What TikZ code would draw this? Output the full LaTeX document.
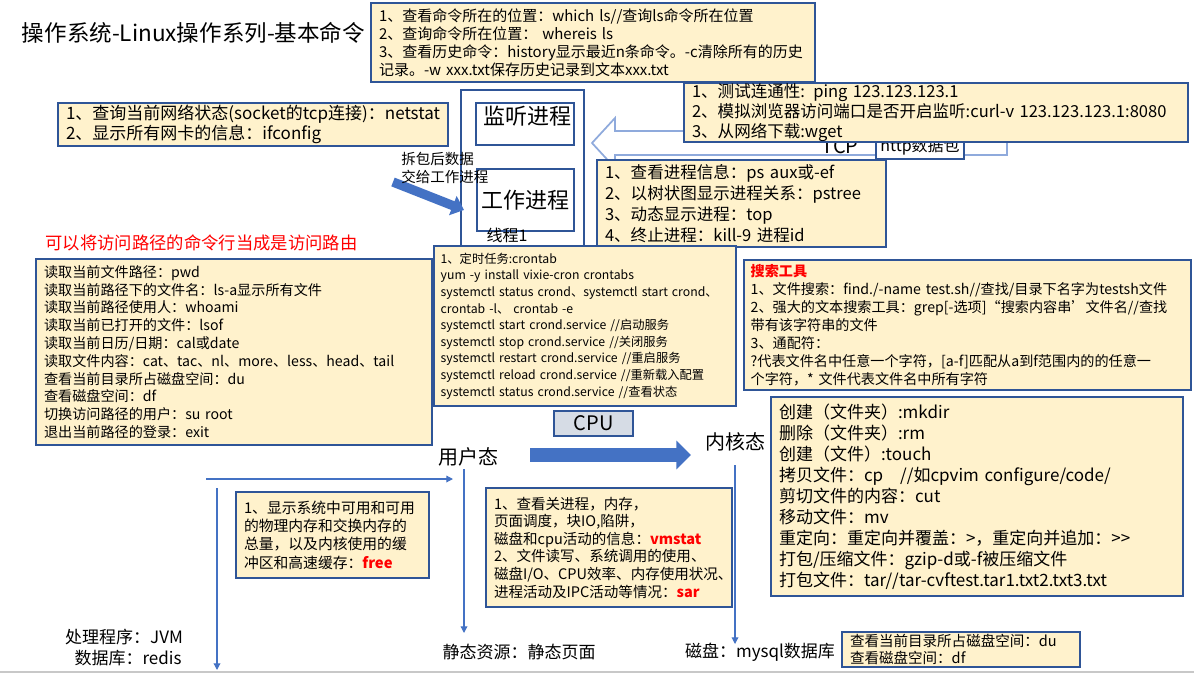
\documentclass[tikz,border=0pt]{standalone}
\usepackage{fontspec}
\setmainfont{Noto Sans CJK SC}
\usetikzlibrary{arrows.meta}
\definecolor{boxc}{HTML}{FFF2CC}
\definecolor{bordc}{HTML}{2F5597}
\definecolor{arrowc}{HTML}{4472C4}
\definecolor{blockc}{HTML}{8FAADC}
\definecolor{cpuc}{HTML}{D6DCE5}
\definecolor{redc}{HTML}{FF0000}
\definecolor{grayc}{HTML}{C8C8C8}
\newcommand\myfs[2]{\fontsize{#1}{#2}\selectfont}
\begin{document}
\begin{tikzpicture}[x=0.75pt,y=-0.75pt,
  box/.style={draw=bordc, fill=boxc, line width=0.9pt, inner xsep=6pt, inner ysep=0pt, align=left},
  plainbox/.style={draw=bordc, fill=white, line width=0.9pt, inner sep=0pt},
  lbl/.style={inner sep=0pt, anchor=center},
  thin/.style={draw=arrowc, line width=0.9pt, -{Triangle[length=5pt,width=5pt]}},
  hl/.style={text=redc, font=\bfseries}]
\useasboundingbox (0,0) rectangle (1194,674);
\draw[grayc, line width=1.2pt] (0,672) -- (1194,672);

% title
\node[lbl] (title) at (193.5,33) {\myfs{16.9pt}{20pt}操作系统-Linux操作系列-基本命令};

% which box
\node[box, text width=321pt, minimum height=59.25pt, font=\myfs{11.25pt}{13.5pt}] (which) at (593,42.5)
{1、查看命令所在的位置：which ls//查询ls命令所在位置\\
2、查询命令所在位置： whereis ls\\
3、查看历史命令：history显示最近n条命令。-c清除所有的历史\\
记录。-w xxx.txt保存历史记录到文本xxx.txt};

% process boxes
\node[plainbox, minimum width=92.25pt, minimum height=123.75pt] (outer) at (522.5,172.5) {};
\node[plainbox, minimum width=73.5pt, minimum height=31.5pt] (listen) at (525,124) {};
\node[lbl] (listent) at (527.5,116) {\myfs{16.5pt}{18pt}监听进程};
\node[plainbox, minimum width=72.75pt, minimum height=46.5pt, font=\myfs{16.5pt}{18pt}] (work) at (525.5,200) {工作进程};
\node[lbl] (thread) at (507,235) {\myfs{12pt}{13pt}线程1};

% netstat box
\node[box, text width=280.5pt, minimum height=32.25pt, font=\myfs{12.75pt}{15pt}] (netstat) at (253,124.5)
{1、查询当前网络状态(socket的tcp连接)：netstat\\
2、显示所有网卡的信息：ifconfig};

% diagonal arrow
\coordinate (d1) at (393,182);
\coordinate (d2) at (464,210);
\draw[arrowc, line width=7pt, -{Triangle[length=9pt,width=15pt]}] (d1) -- (d2);
\node[lbl, anchor=west, align=left, font=\myfs{10.9pt}{13.5pt}] (unpack) at (401,168) {拆包后数据\\交给工作进程};

% block arrow (hollow)
\draw[blockc, line width=1.3pt, fill=white, line join=miter]
  (1007,131) -- (615,131) -- (615,118) -- (592,143) -- (615,168) -- (615,155) -- (1007,155) -- cycle;
\node[lbl] (tcp) at (840,146) {\myfs{15pt}{16pt}TCP};
\node[plainbox, minimum width=66pt, minimum height=18.75pt, font=\myfs{12pt}{13pt}] (http) at (920,146.5) {http数据包};

% ping box
\node[box, text width=366pt, minimum height=44.25pt, font=\myfs{12.4pt}{15pt}] (ping) at (936,112.5)
{1、测试连通性: ping 123.123.123.1\\
2、模拟浏览器访问端口是否开启监听:curl-v 123.123.123.1:8080\\
3、从网络下载:wget};

% ps box
\node[box, text width=204.75pt, minimum height=65.25pt, font=\myfs{12.4pt}{15.75pt}] (ps) at (741.5,203.5)
{1、查看进程信息：ps aux或-ef\\
2、以树状图显示进程关系：pstree\\
3、动态显示进程：top\\
4、终止进程：kill-9 进程id};

% crontab box
\node[box, inner xsep=5pt, text width=216.5pt, minimum height=120pt, font=\myfs{9.2pt}{12.45pt}] (cron) at (585,326)
{1、定时任务:crontab\\
yum -y install vixie-cron crontabs\\
\mbox{systemctl status crond、systemctl start crond、}\\
crontab -l、 crontab -e\\
\mbox{systemctl start crond.service //启动服务}\\
\mbox{systemctl stop crond.service //关闭服务}\\
\mbox{systemctl restart crond.service //重启服务}\\
\mbox{systemctl reload crond.service //重新载入配置}\\
\mbox{systemctl status crond.service //查看状态}};

% red subtitle and pwd box
\node[lbl, text=redc] (route) at (201.5,243) {\myfs{13pt}{15pt}可以将访问路径的命令行当成是访问路由};
\node[box, text width=285pt, minimum height=139.5pt, font=\myfs{10.6pt}{13.35pt}] (pwd) at (234,352)
{读取当前文件路径：pwd\\
读取当前路径下的文件名：ls-a显示所有文件\\
读取当前路径使用人：whoami\\
读取当前已打开的文件：lsof\\
读取当前日历/日期：cal或date\\
读取文件内容：cat、tac、nl、more、less、head、tail\\
查看当前目录所占磁盘空间：du\\
查看磁盘空间：df\\
切换访问路径的用户：su root\\
退出当前路径的登录：exit};

% search box
\node[box, inner xsep=5pt, text width=325.25pt, minimum height=97.5pt, font=\myfs{10.6pt}{13.5pt}] (search) at (967.5,325)
{{\color{redc}\bfseries 搜索工具}\\
\mbox{1、文件搜索：find./-name test.sh//查找/目录下名字为testsh文件}\\
\mbox{2、强大的文本搜索工具：grep[-选项]“搜索内容串'文件名//查找}\\
带有该字符串的文件\\
3、通配符：\\
?代表文件名中任意一个字符，[a-f]匹配从a到f范围内的的任意一\\
个字符，* 文件代表文件名中所有字符};

% mkdir box
\node[box, text width=297pt, minimum height=149.25pt, font=\myfs{12.75pt}{15.75pt}] (mkdir) at (977,496.5)
{创建（文件夹）:mkdir\\
删除（文件夹）:rm\\
创建（文件）:touch\\
拷贝文件：cp　//如cpvim configure/code/\\
剪切文件的内容：cut\\
移动文件：mv\\
重定向：重定向并覆盖：>，重定向并追加：>\kern0pt>\\
打包/压缩文件：gzip-d或-f被压缩文件\\
打包文件：tar//tar-cvftest.tar1.txt2.txt3.txt};

% CPU and states
\node[draw=bordc, fill=cpuc, line width=0.9pt, minimum width=59.25pt, minimum height=18.75pt, inner sep=0pt, font=\myfs{15pt}{16pt}] (cpu) at (593.5,423.5) {CPU};
\node[lbl] (user) at (468,457) {\myfs{15pt}{16pt}用户态};
\node[lbl] (kernel) at (735,442) {\myfs{15pt}{16pt}内核态};
\coordinate (c1) at (530,455);
\coordinate (c2) at (691,455);
\draw[arrowc, line width=10.5pt, -{Triangle[length=11pt,width=21pt]}] (c1) -- (c2);

% thin arrows
\coordinate (h1) at (206,479);
\coordinate (h2) at (453,479);
\draw[thin] (h1) -- (h2);
\coordinate (v1) at (217,488);
\coordinate (v2) at (217,670);
\draw[thin] (v1) -- (v2);
\coordinate (u1) at (464,469);
\coordinate (u2) at (464,633);
\draw[thin] (u1) -- (u2);
\coordinate (k1) at (735,465);
\coordinate (k2) at (735,644);
\draw[thin] (k1) -- (k2);

% free box
\node[box, text width=132.75pt, minimum height=64.5pt, font=\myfs{11.1pt}{13.7pt}] (free) at (332.5,535)
{1、显示系统中可用和可用\\
的物理内存和交换内存的\\
总量，以及内核使用的缓\\
冲区和高速缓存：{\color{redc}\bfseries free}};

% vmstat box
\node[box, text width=172.5pt, minimum height=89.25pt, font=\myfs{10.9pt}{13.2pt}] (vmstat) at (609,547.5)
{1、查看关进程，内存，\\
页面调度，块IO,陷阱，\\
磁盘和cpu活动的信息：{\color{redc}\bfseries vmstat}\\
2、文件读写、系统调用的使用、\\
磁盘I/O、CPU效率、内存使用状况、\\
进程活动及IPC活动等情况：{\color{redc}\bfseries sar}};

% bottom labels
\node[lbl] (static) at (519,652) {\myfs{12.75pt}{14pt}静态资源：静态页面};
\node[lbl] (disk) at (760,652) {\myfs{12.75pt}{14pt}磁盘：mysql数据库};
\node[lbl] (jvm) at (124,637) {\myfs{12.75pt}{14pt}处理程序：JVM};
\node[lbl] (redis) at (128,658) {\myfs{12.75pt}{14pt}数据库：redis};

% du box
\node[box, text width=166.5pt, minimum height=26.25pt, font=\myfs{10.9pt}{12.75pt}] (du) at (961,649.5)
{查看当前目录所占磁盘空间：du\\
查看磁盘空间：df};
\end{tikzpicture}
\end{document}
